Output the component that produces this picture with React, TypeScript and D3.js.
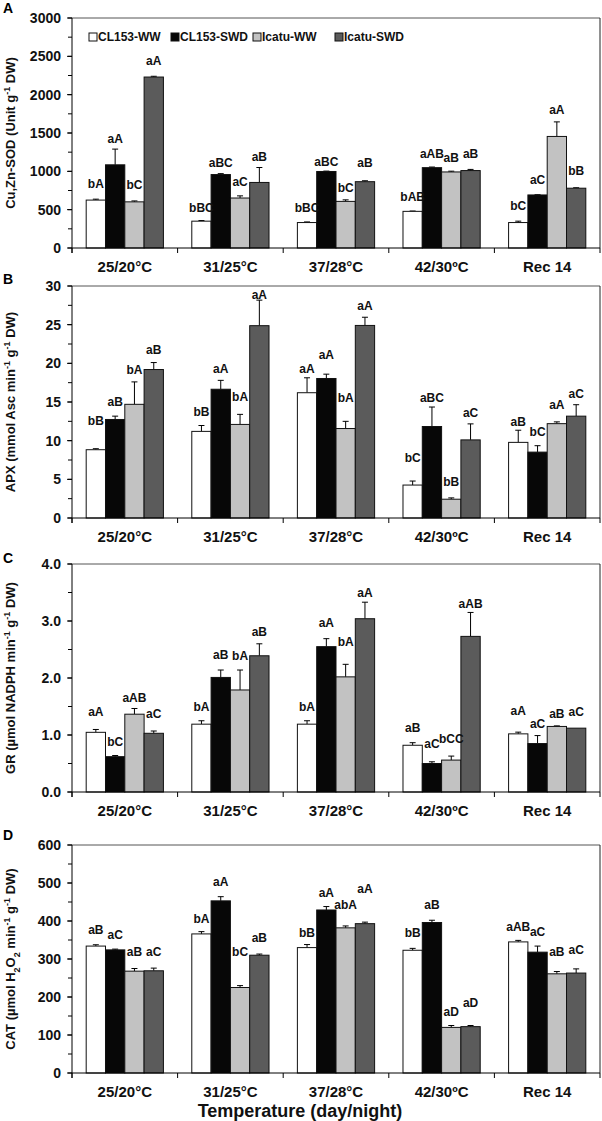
import React from "react";
import * as d3 from "d3";

const categories = ["25/20°C", "31/25°C", "37/28°C", "42/30ºC", "Rec 14"];
const seriesNames = ["CL153-WW", "CL153-SWD", "Icatu-WW", "Icatu-SWD"];
const seriesFill = ["#ffffff", "#070707", "#c2c2c2", "#5b5b5b"];

// Panel A – Cu,Zn-SOD
const sodWW = [625, 350, 332, 478, 332];
const sodSWD = [1085, 958, 998, 1048, 692];
const sodIWW = [602, 652, 608, 992, 1455];
const sodISWD = [2230, 855, 865, 1010, 780];
const sodErrWW = [12, 8, 8, 4, 18];
const sodErrSWD = [205, 12, 5, 8, 3];
const sodErrIWW = [12, 28, 20, 10, 190];
const sodErrISWD = [10, 195, 12, 15, 6];
const sodLabWW = ["bA", "bBC", "bBC", "bAB", "bC"];
const sodLabSWD = ["aA", "aBC", "aBC", "aAB", "aC"];
const sodLabIWW = ["bC", "aC", "bC", "aB", "aA"];
const sodLabISWD = ["aA", "aB", "aB", "aB", "bB"];
const sodLabAtWW = [835, 530, 530, 674, 555];
const sodLabAtSWD = [1425, 1109, 1130, 1226, 890];
const sodLabAtIWW = [826, 857, 791, 1174, 1803];
const sodLabAtISWD = [2448, 1196, 1109, 1226, 1013];

// Panel B – APX
const apxWW = [8.83, 11.2, 16.2, 4.26, 9.78];
const apxSWD = [12.74, 16.65, 18.04, 11.83, 8.52];
const apxIWW = [14.7, 12.1, 11.57, 2.43, 12.2];
const apxISWD = [19.2, 24.87, 24.9, 10.1, 13.17];
const apxErrWW = [0.13, 0.76, 1.93, 0.52, 1.57];
const apxErrSWD = [0.43, 1.15, 0.56, 2.52, 0.83];
const apxErrIWW = [2.9, 1.3, 0.93, 0.17, 0.23];
const apxErrISWD = [0.9, 3.3, 1.06, 2.07, 1.48];
const apxLabWW = ["bB", "bB", "aA", "bC", "aB"];
const apxLabSWD = ["aB", "aA", "aA", "aBC", "bC"];
const apxLabIWW = ["bA", "bA", "bA", "bB", "aA"];
const apxLabISWD = ["aB", "aA", "aA", "aC", "aC"];
const apxLabAtWW = [12.6, 13.7, 19.26, 7.74, 12.5];
const apxLabAtSWD = [15.0, 19.35, 21.1, 15.5, 11.1];
const apxLabAtIWW = [19.1, 15.65, 15.5, 4.7, 14.65];
const apxLabAtISWD = [21.7, 28.9, 27.4, 13.6, 16.1];

// Panel C – GR
const grWW = [1.047, 1.19, 1.19, 0.82, 1.02];
const grSWD = [0.62, 2.01, 2.55, 0.5, 0.85];
const grIWW = [1.365, 1.79, 2.02, 0.56, 1.15];
const grISWD = [1.03, 2.39, 3.04, 2.73, 1.12];
const grErrWW = [0.05, 0.06, 0.06, 0.045, 0.03];
const grErrSWD = [0.02, 0.13, 0.14, 0.03, 0.14];
const grErrIWW = [0.1, 0.35, 0.22, 0.07, 0.01];
const grErrISWD = [0.04, 0.21, 0.29, 0.42, 0.0];
const grLabWW = ["aA", "bA", "bA", "aB", "aA"];
const grLabSWD = ["bC", "aB", "aA", "aC", "aC"];
const grLabIWW = ["aAB", "bA", "bA", "bCC", "aB"];
const grLabISWD = ["aC", "aB", "aA", "aAB", "aC"];
const grLabAtWW = [1.41, 1.5, 1.5, 1.13, 1.43];
const grLabAtSWD = [0.88, 2.4, 2.96, 0.84, 1.2];
const grLabAtIWW = [1.66, 2.39, 2.64, 0.94, 1.37];
const grLabAtISWD = [1.38, 2.81, 3.49, 3.31, 1.41];

// Panel D – CAT
const catWW = [334, 366, 330, 323, 345];
const catSWD = [324, 453, 429, 396, 318];
const catIWW = [268, 225, 382, 120, 261];
const catISWD = [269, 310, 393, 122, 263];
const catErrWW = [3.5, 6, 8, 5, 4];
const catErrSWD = [2, 11, 9, 6, 16];
const catErrIWW = [7, 5, 5, 5, 6];
const catErrISWD = [7, 3, 4, 3, 11];
const catLabWW = ["aB", "bA", "bB", "bB", "aAB"];
const catLabSWD = ["aC", "aA", "aA", "aB", "aC"];
const catLabIWW = ["aB", "bC", "abA", "aD", "aB"];
const catLabISWD = ["aC", "aB", "aA", "aD", "aC"];
const catLabAtWW = [378, 405, 370, 369, 385];
const catLabAtSWD = [365, 504, 474, 443, 371];
const catLabAtIWW = [318, 318, 443, 161, 320];
const catLabAtISWD = [320, 355, 485, 184, 324];

type Part = { t: string; s?: "sup" | "sub" };

const panels = [
  {
    letter: "A",
    title: [{ t: "Cu,Zn-SOD (Unit g" }, { t: "-1", s: "sup" }, { t: " DW)" }] as Part[],
    max: 3000, major: 500, fmt: "d",
    values: [sodWW, sodSWD, sodIWW, sodISWD],
    errs: [sodErrWW, sodErrSWD, sodErrIWW, sodErrISWD],
    labs: [sodLabWW, sodLabSWD, sodLabIWW, sodLabISWD],
    labAt: [sodLabAtWW, sodLabAtSWD, sodLabAtIWW, sodLabAtISWD],
    top: 18, bottom: 248, letterY: 13, legend: true,
  },
  {
    letter: "B",
    title: [{ t: "APX (mmol Asc min" }, { t: "-1", s: "sup" }, { t: " g" }, { t: "-1", s: "sup" }, { t: " DW)" }] as Part[],
    max: 30, major: 5, fmt: "d",
    values: [apxWW, apxSWD, apxIWW, apxISWD],
    errs: [apxErrWW, apxErrSWD, apxErrIWW, apxErrISWD],
    labs: [apxLabWW, apxLabSWD, apxLabIWW, apxLabISWD],
    labAt: [apxLabAtWW, apxLabAtSWD, apxLabAtIWW, apxLabAtISWD],
    top: 286, bottom: 518, letterY: 284, legend: false,
  },
  {
    letter: "C",
    title: [{ t: "GR (µmol NADPH min" }, { t: "-1", s: "sup" }, { t: " g" }, { t: "-1", s: "sup" }, { t: " DW)" }] as Part[],
    max: 4, major: 1, fmt: ".1f",
    values: [grWW, grSWD, grIWW, grISWD],
    errs: [grErrWW, grErrSWD, grErrIWW, grErrISWD],
    labs: [grLabWW, grLabSWD, grLabIWW, grLabISWD],
    labAt: [grLabAtWW, grLabAtSWD, grLabAtIWW, grLabAtISWD],
    top: 564, bottom: 792, letterY: 563, legend: false,
  },
  {
    letter: "D",
    title: [{ t: "CAT (µmol H" }, { t: "2", s: "sub" }, { t: "O" }, { t: "2", s: "sub" }, { t: " min" }, { t: "-1", s: "sup" }, { t: " g" }, { t: "-1", s: "sup" }, { t: " DW)" }] as Part[],
    max: 600, major: 100, fmt: "d",
    values: [catWW, catSWD, catIWW, catISWD],
    errs: [catErrWW, catErrSWD, catErrIWW, catErrISWD],
    labs: [catLabWW, catLabSWD, catLabIWW, catLabISWD],
    labAt: [catLabAtWW, catLabAtSWD, catLabAtIWW, catLabAtISWD],
    top: 845, bottom: 1073, letterY: 840, legend: false,
  },
];

const W = 602;
const H = 1121;
const X0 = 72;
const X1 = 600;
const FONT = "'Liberation Sans', Arial, Helvetica, sans-serif";

const x = d3.scaleBand<string>().domain(categories).range([X0, X1]).paddingInner(0).paddingOuter(0);
const xs = d3.scaleBand<string>().domain(seriesNames).range([0, x.bandwidth()]).paddingInner(0).paddingOuter(0.735);

function Panel({ p }: { p: (typeof panels)[number] }) {
  const y = d3.scaleLinear().domain([0, p.max]).range([p.bottom, p.top]);
  const majors = d3.range(0, p.max + p.major / 1000, p.major);
  const minors = d3.range(0, p.max + p.major / 1000, p.major / 2);
  const fmt = d3.format(p.fmt);
  const bw = xs.bandwidth();
  const bounds = d3.range(0, categories.length + 1).map((i) => X0 + i * x.step());
  const midY = (p.top + p.bottom) / 2;
  return (
    <g>
      <text x={3} y={p.letterY} fontSize={14} fontWeight="bold" fontFamily={FONT}>{p.letter}</text>
      {/* frame */}
      <line x1={X0} x2={X1} y1={p.top} y2={p.top} stroke="#555" strokeWidth={1} />
      <line x1={X1} x2={X1} y1={p.top} y2={p.bottom} stroke="#222" strokeWidth={1} />
      {/* bars */}
      {p.values.map((vals, si) =>
        vals.map((v, ci) => {
          const bx = (x(categories[ci]) as number) + (xs(seriesNames[si]) as number);
          const cx = bx + bw / 2;
          const e = p.errs[si][ci];
          return (
            <g key={`${si}-${ci}`}>
              {e > 0 && (
                <g stroke="#000" strokeWidth={1}>
                  <line x1={cx} x2={cx} y1={y(v)} y2={y(v + e)} />
                  <line x1={cx - 3} x2={cx + 3} y1={y(v + e)} y2={y(v + e)} />
                </g>
              )}
              <rect x={bx} y={y(v)} width={bw} height={p.bottom - y(v)} fill={seriesFill[si]} stroke="#111" strokeWidth={1} />
            </g>
          );
        })
      )}
      {/* significance labels */}
      {p.labs.map((labs, si) =>
        labs.map((l, ci) => {
          const cx = (x(categories[ci]) as number) + (xs(seriesNames[si]) as number) + bw / 2;
          return (
            <text key={`l${si}-${ci}`} x={cx} y={y(p.labAt[si][ci])} dy="0.35em" textAnchor="middle" fontSize={12} fontWeight="bold" fontFamily={FONT} fill="#111">{l}</text>
          );
        })
      )}
      {/* y axis */}
      <line x1={X0} x2={X0} y1={p.top} y2={p.bottom + 5} stroke="#000" strokeWidth={1} />
      {minors.map((t) => (
        <line key={`mi${t}`} x1={X0 - 4} x2={X0} y1={y(t)} y2={y(t)} stroke="#000" strokeWidth={1} />
      ))}
      {majors.map((t) => (
        <g key={`ma${t}`}>
          <line x1={X0 - 5} x2={X0} y1={y(t)} y2={y(t)} stroke="#000" strokeWidth={1} />
          <text x={X0 - 11} y={y(t)} dy="0.36em" textAnchor="end" fontSize={14} fontWeight="bold" fontFamily={FONT} fill="#111">{fmt(t)}</text>
        </g>
      ))}
      {/* x axis */}
      <line x1={X0} x2={X1} y1={p.bottom} y2={p.bottom} stroke="#000" strokeWidth={1} />
      {bounds.map((b, i) => (
        <line key={`xb${i}`} x1={b} x2={b} y1={p.bottom} y2={p.bottom + 5} stroke="#000" strokeWidth={1} />
      ))}
      {categories.map((c) => (
        <text key={c} x={(x(c) as number) + x.bandwidth() / 2} y={p.bottom + 24} textAnchor="middle" fontSize={15} fontWeight="bold" fontFamily={FONT} fill="#111">{c}</text>
      ))}
      {/* y title */}
      <text transform={`translate(15,${midY}) rotate(-90)`} textAnchor="middle" fontSize={13} fontWeight="bold" fontFamily={FONT} fill="#111">
        {p.title.map((part, i) =>
          part.s ? (
            <tspan key={i} fontSize={9} baselineShift={part.s === "sup" ? "super" : "sub"}>{part.t}</tspan>
          ) : (
            <tspan key={i}>{part.t}</tspan>
          )
        )}
      </text>
      {p.legend && (
        <g>
          {seriesNames.map((s, i) => {
            const lx = 89 + i * 82;
            const ly = 37;
            return (
              <g key={s}>
                <rect x={lx} y={ly - 4} width={8} height={8} fill={seriesFill[i]} stroke="#111" strokeWidth={1} />
                <text x={lx + 9} y={ly} dy="0.36em" fontSize={12} fontWeight="bold" fontFamily={FONT} fill="#111">{s}</text>
              </g>
            );
          })}
        </g>
      )}
    </g>
  );
}

export default function App() {
  return (
    <svg width={W} height={H} viewBox={`0 0 ${W} ${H}`} style={{ position: "absolute", left: 0, top: 0, background: "#fff" }}>
      <rect x={0} y={0} width={W} height={H} fill="#fff" />
      {panels.map((p) => (
        <Panel key={p.letter} p={p} />
      ))}
      <text x={300} y={1117} textAnchor="middle" fontSize={18} fontWeight="bold" fontFamily={FONT} fill="#111">Temperature (day/night)</text>
    </svg>
  );
}
